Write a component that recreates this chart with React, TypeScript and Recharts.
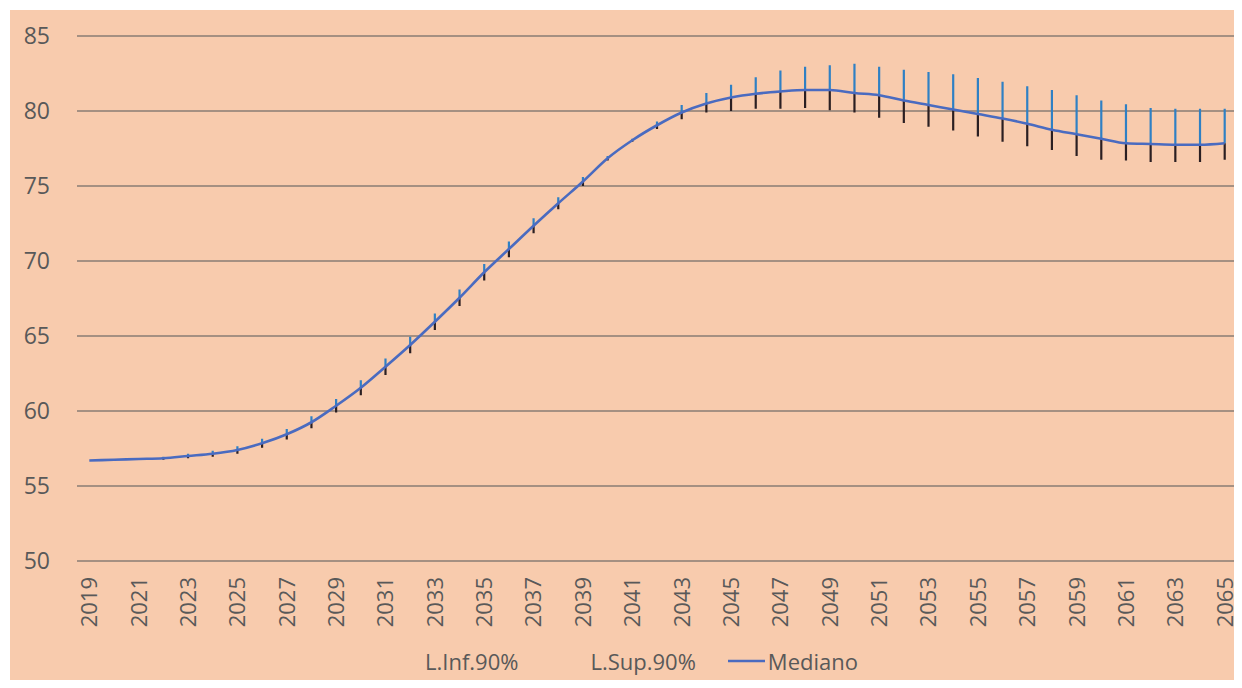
import { LineChart, Line, XAxis, YAxis, CartesianGrid, Legend, ErrorBar } from 'recharts'

const years = [
  2019, 2020, 2021, 2022, 2023, 2024, 2025, 2026, 2027, 2028,
  2029, 2030, 2031, 2032, 2033, 2034, 2035, 2036, 2037, 2038,
  2039, 2040, 2041, 2042, 2043, 2044, 2045, 2046, 2047, 2048,
  2049, 2050, 2051, 2052, 2053, 2054, 2055, 2056, 2057, 2058,
  2059, 2060, 2061, 2062, 2063, 2064, 2065,
]

const mediano = [
  56.7, 56.75, 56.8, 56.85, 57.0, 57.15, 57.4, 57.85, 58.45, 59.25,
  60.35, 61.55, 62.95, 64.4, 65.95, 67.55, 69.25, 70.8, 72.35, 73.85,
  75.3, 76.85, 78.05, 79.05, 79.9, 80.5, 80.9, 81.15, 81.3, 81.4,
  81.4, 81.2, 81.05, 80.7, 80.4, 80.1, 79.8, 79.5, 79.15, 78.75,
  78.45, 78.15, 77.85, 77.8, 77.75, 77.75, 77.85,
]

// L.Inf.90%
const limInf = [
  56.7, 56.72, 56.75, 56.75, 56.85, 56.95, 57.15, 57.55, 58.1, 58.85,
  59.9, 61.05, 62.4, 63.85, 65.4, 67.0, 68.7, 70.25, 71.85, 73.45,
  75.0, 76.7, 77.95, 78.8, 79.45, 79.9, 80.0, 80.15, 80.15, 80.2,
  80.05, 79.9, 79.55, 79.2, 78.95, 78.7, 78.3, 77.95, 77.65, 77.4,
  77.0, 76.75, 76.7, 76.6, 76.6, 76.6, 76.75,
]

// L.Sup.90%
const limSup = [
  56.7, 56.78, 56.85, 56.95, 57.15, 57.35, 57.65, 58.15, 58.8, 59.65,
  60.8, 62.05, 63.5, 64.95, 66.5, 68.1, 69.8, 71.3, 72.85, 74.25,
  75.6, 77.0, 78.15, 79.3, 80.4, 81.2, 81.75, 82.25, 82.7, 82.95,
  83.05, 83.15, 82.95, 82.75, 82.6, 82.45, 82.2, 81.95, 81.65, 81.4,
  81.05, 80.7, 80.45, 80.2, 80.15, 80.15, 80.15,
]

const yTicks = [50, 55, 60, 65, 70, 75, 80, 85]

const data = years.map((year, i) => ({
  year,
  mediano: mediano[i],
  inf: limInf[i],
  sup: limSup[i],
}))

const FONT = '"Open Sans", "Liberation Sans", sans-serif'
const TEXT = '#595959'
const LINE = '#4a6bc0'

const YearTick = (props: any) => {
  const { x, y, payload } = props
  return (
    <text
      x={x}
      y={y}
      transform={`rotate(-90 ${x} ${y})`}
      textAnchor="end"
      dy="0.36em"
      fill={TEXT}
      fontSize={22}
      fontFamily={FONT}
    >
      {payload.value}
    </text>
  )
}

const LegendBox = () => {
  const items = [
    { label: 'L.Inf.90%', line: false },
    { label: 'L.Sup.90%', line: false },
    { label: 'Mediano', line: true },
  ]
  return (
    <div style={{ display: 'flex', alignItems: 'center', height: 40, fontFamily: FONT, fontSize: 22, color: TEXT }}>
      {items.map((it) => (
        <div key={it.label} style={{ display: 'flex', alignItems: 'center', marginRight: 32 }}>
          <svg width={37} height={10} style={{ marginRight: 3 }}>
            {it.line && <line x1={0} y1={5} x2={37} y2={5} stroke={LINE} strokeWidth={2.5} />}
          </svg>
          <span>{it.label}</span>
        </div>
      ))}
    </div>
  )
}

export default function App() {
  return (
    <div style={{ position: 'relative', width: 1242, height: 688, margin: -8, background: '#ffffff', overflow: 'hidden' }}>
      <div style={{ position: 'absolute', left: 0, top: 0, width: 1242, height: 2, background: '#6b4a35' }} />
      <div style={{ position: 'absolute', left: 2, top: 2, width: 1, height: 686, background: '#c8c8c8' }} />
      <div style={{ position: 'absolute', left: 10, top: 10, width: 1232, height: 678, background: '#f8cbad' }}>
        <LineChart width={1232} height={678} data={data} margin={{ top: 26, right: 5, bottom: 7, left: 7 }}>
          <CartesianGrid vertical={false} stroke="#8a7d74" strokeWidth={1.3} />
          <XAxis
            dataKey="year"
            interval={1}
            tick={<YearTick />}
            tickLine={false}
            axisLine={false}
            tickSize={0}
            tickMargin={16}
            height={80}
            padding={{ left: 12.3, right: 12.3 }}
          />
          <YAxis
            domain={[50, 85]}
            ticks={yTicks}
            width={60}
            tickLine={false}
            axisLine={false}
            tickSize={0}
            tickMargin={27}
            tick={{ fill: TEXT, fontSize: 23, fontFamily: FONT }}
          />
          <Legend
            verticalAlign="bottom"
            height={40}
            content={<LegendBox />}
            wrapperStyle={{ left: 375, bottom: 7, width: 560 }}
          />
          <Line
            type="monotone"
            dataKey="mediano"
            stroke={LINE}
            strokeWidth={2.6}
            dot={false}
            isAnimationActive={false}
          >
            <ErrorBar
              dataKey={(d: any) => [0, +(d.sup - d.mediano).toFixed(3)]}
              direction="y"
              width={0}
              stroke="#2f80c4"
              strokeWidth={2.2}
            />
            <ErrorBar
              dataKey={(d: any) => [+(d.mediano - d.inf).toFixed(3), 0]}
              direction="y"
              width={0}
              stroke="#2b1f22"
              strokeWidth={2.2}
            />
          </Line>
        </LineChart>
      </div>
    </div>
  )
}
